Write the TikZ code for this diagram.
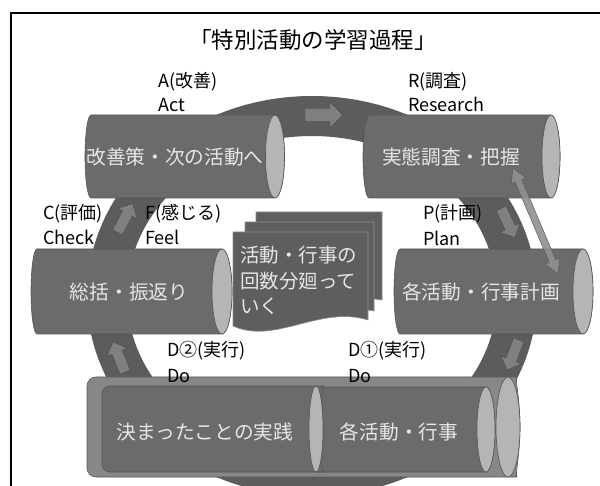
\documentclass[tikz,border=0pt]{standalone}
\usepackage{fontspec}
\setmainfont{Noto Sans CJK JP}
\usetikzlibrary{calc}
\definecolor{ringc}{HTML}{5C5C5C}
\definecolor{ringarr}{HTML}{808080}
\definecolor{bodyc}{HTML}{6B6B6B}
\definecolor{capc}{HTML}{B5B5B5}
\definecolor{edgec}{HTML}{555555}
\definecolor{outerc}{HTML}{878787}
\definecolor{cardc}{HTML}{5E5E5E}
\definecolor{cardedge}{HTML}{8E8E8E}
\definecolor{txtc}{HTML}{E6E6E6}
\definecolor{dblarr}{HTML}{909090}
\newcommand\drawcyl[8]{%
  \pgfmathsetmacro\cyh{(#4-#3)/2}%
  \pgfmathsetmacro\cym{(#4+#3)/2}%
  \filldraw[fill=#7, draw=edgec, line width=0.6pt] (#1+#5,#3) -- (#2,#3) arc[start angle=-90, end angle=90, x radius=#6, y radius=\cyh] -- (#1+#5,#4) arc[start angle=90, end angle=270, x radius=#5, y radius=\cyh] -- cycle;
  \filldraw[fill=#8, draw=edgec, line width=0.6pt] (#2,\cym) ellipse[x radius=#6, y radius=\cyh];
}
\newcommand\ringarrow[4]{%
  \begin{scope}[shift={(#1,#2)}, rotate=#3, scale=#4]
    \filldraw[fill=ringarr, draw=ringc!80!black, line width=0.4pt] (-19,-6.5) -- (6,-6.5) -- (6,-13) -- (19,0) -- (6,13) -- (6,6.5) -- (-19,6.5) -- cycle;
  \end{scope}}
\begin{document}
\begin{tikzpicture}[x=1pt,y=-1pt,
  lbl/.style={anchor=base west, inner sep=0pt, font=\fontsize{18}{20}\selectfont, text=black},
  cyltxt/.style={anchor=base, inner sep=0pt, font=\fontsize{19.7}{22}\selectfont, text=txtc},
  cardtxt/.style={anchor=base west, inner sep=0pt, font=\fontsize{19.5}{22}\selectfont, text=txtc},
  cardshape/.style={fill=cardc, draw=cardedge, line width=0.6pt}]
\useasboundingbox (0,0) rectangle (600,486);
\fill[white] (0,0) rectangle (600,486);
\begin{scope}
\clip (0,0) rectangle (600,486);
% frame
\draw[line width=1.5pt] (11,495) -- (11,13) -- (610,13);
% title
\node[anchor=base, inner sep=0pt, font=\fontsize{22.5}{25}\selectfont] (title) at (313,48.5) {「特別活動の学習過程」};
% ring
\fill[ringc, even odd rule] (312,296) ellipse[x radius=225, y radius=200] (312,296) ellipse[x radius=185, y radius=160];
\ringarrow{324}{115}{0}{1}
\ringarrow{508}{223}{-65}{0.85}
\ringarrow{513}{355}{-111}{0.85}
\ringarrow{119}{357}{112}{0.85}
\ringarrow{125}{218}{62}{0.85}
% cylinders
\drawcyl{85}{275}{115}{198}{6}{9.5}{bodyc}{capc}
\drawcyl{363}{551}{115}{198}{6}{9}{bodyc}{capc}
\drawcyl{31}{222}{249}{334}{6}{10}{bodyc}{capc}
\drawcyl{394}{583}{249}{334}{6}{10}{bodyc}{capc}
% bottom outer cylinder
\filldraw[fill=outerc, draw=edgec, line width=0.6pt, rounded corners=9pt] (300,377) -- (87,377) -- (87,477) -- (508,477) arc[start angle=90, end angle=-90, x radius=12, y radius=50] -- cycle;
\filldraw[fill=capc, draw=edgec, line width=0.6pt] (508,427) ellipse[x radius=12, y radius=50];
% inner cylinder 2
\filldraw[fill=bodyc, draw=edgec, line width=0.6pt] (316,387) -- (486,387) arc[start angle=-90, end angle=90, x radius=9, y radius=42.5] -- (316,472) -- cycle;
\filldraw[fill=capc, draw=edgec, line width=0.6pt] (486,429.5) ellipse[x radius=9, y radius=42.5];
% inner cylinder 1
\filldraw[fill=bodyc, draw=edgec, line width=0.6pt, rounded corners=8pt] (200,386) -- (102,386) -- (102,472) -- (316,472) arc[start angle=90, end angle=-90, x radius=7, y radius=43] -- cycle;
\filldraw[fill=capc, draw=edgec, line width=0.6pt] (316,429) ellipse[x radius=7, y radius=43];
% card stack
\filldraw[cardshape] (256,212) -- (382,212) -- (382,300) .. controls (352,294) and (300,318) .. (256,306) -- cycle;
\filldraw[cardshape] (245,222) -- (374,222) -- (374,311) .. controls (342,304) and (290,330) .. (245,316) -- cycle;
\filldraw[cardshape] (233,232) -- (368,232) -- (368,320) .. controls (320,305) and (275,345) .. (233,326) -- cycle;
\node[cardtxt] (k1) at (240,262.5) {活動・行事の};
\node[cardtxt] (k2) at (240,288.5) {回数分廻って};
\node[cardtxt] (k3) at (240,313.5) {いく};
% double arrow R <-> Plan
\coordinate (dA) at (513,168);
\coordinate (dB) at (558,274);
\begin{scope}[shift={(dA)}, rotate=-67]
  \filldraw[fill=dblarr, draw=edgec, line width=0.5pt, opacity=0.9] (0,0) -- (14,-8) -- (14,-3.5) -- (101,-3.5) -- (101,-8) -- (115,0) -- (101,8) -- (101,3.5) -- (14,3.5) -- (14,8) -- cycle;
\end{scope}
% cylinder texts
\node[cyltxt] (tA) at (175,164.5) {改善策・次の活動へ};
\node[cyltxt] (tR) at (451,164.5) {実態調査・把握};
\node[cyltxt] (tC) at (129,299.5) {総括・振返り};
\node[cyltxt] (tP) at (481,299.5) {各活動・行事計画};
\node[cyltxt] (tD2) at (205,439.5) {決まったことの実践};
\node[cyltxt] (tD1) at (399,439.5) {各活動・行事};
% labels
\node[lbl] (lA1) at (158,88) {A(改善)};
\node[lbl] (lA2) at (158,112) {Act};
\node[lbl] (lR1) at (408,88) {R(調査)};
\node[lbl] (lR2) at (408,112) {Research};
\node[lbl] (lC1) at (43,220) {C(評価)};
\node[lbl] (lC2) at (43,245) {Check};
\node[lbl] (lF1) at (145,220) {F(感じる)};
\node[lbl] (lF2) at (145,245) {Feel};
\node[lbl] (lP1) at (423,220) {P(計画)};
\node[lbl] (lP2) at (423,246) {Plan};
\node[lbl] (lD21) at (167,356) {D②(実行)};
\node[lbl] (lD22) at (167,383) {Do};
\node[lbl] (lD11) at (348,356) {D①(実行)};
\node[lbl] (lD12) at (348,383) {Do};
\end{scope}
\end{tikzpicture}
\end{document}
